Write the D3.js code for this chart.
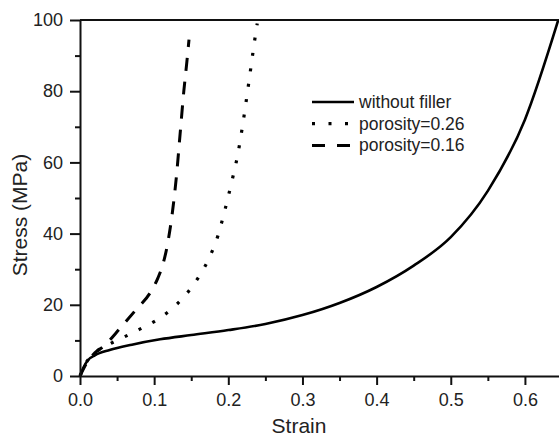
<!DOCTYPE html>
<html>
<head>
<meta charset="utf-8">
<script src="https://cdn.jsdelivr.net/npm/d3@7/dist/d3.min.js"></script>
<style>
  body { margin: 0; background: #fff; }
  svg { display: block; font-family: "Liberation Sans", Arial, sans-serif; }
  .axis path, .axis line { stroke: #111; }
  .axis text { fill: #222; font-size: 18px; }
</style>
</head>
<body>
<svg width="559" height="436"></svg>
<script>
// strain / stress pairs
const noFillerStrain = [0, 0.005, 0.01, 0.02, 0.04, 0.07, 0.108, 0.15, 0.2, 0.25, 0.3, 0.35, 0.4, 0.45, 0.5, 0.55, 0.6, 0.645];
const noFillerStress = [0, 2.5, 4.3, 5.8, 7.3, 8.8, 10.3, 11.5, 12.9, 14.6, 17.1, 20.5, 25, 31, 39, 52, 72, 100];

const p26Strain = [0, 0.01, 0.02, 0.04, 0.06, 0.08, 0.1, 0.12, 0.14, 0.16, 0.175, 0.186, 0.195, 0.204, 0.213, 0.219, 0.225, 0.23, 0.235, 0.239];
const p26Stress = [0, 4.3, 6.5, 9, 11, 13.1, 15.3, 18.2, 22.2, 27.8, 33.5, 39.4, 46.3, 54, 62.5, 70, 78.5, 86, 93.5, 99];

const p16Strain = [0, 0.01, 0.02, 0.031, 0.054, 0.075, 0.095, 0.105, 0.112, 0.118, 0.124, 0.13, 0.135, 0.14, 0.144, 0.147];
const p16Stress = [0, 4, 6.5, 8.2, 13.4, 18.5, 23.5, 27.5, 31.5, 37, 45, 56, 68, 80, 88, 94.5];

const seriesNames = ["without filler", "porosity=0.26", "porosity=0.16"];
const xTicks = [0, 0.1, 0.2, 0.3, 0.4, 0.5, 0.6];
const yTicks = [0, 20, 40, 60, 80, 100];

const svg = d3.select("svg");
const x = d3.scaleLinear().domain([0, 0.65]).range([80, 562]);
const y = d3.scaleLinear().domain([0, 100]).range([376, 20]);

const series = [
  { name: seriesNames[0], xs: noFillerStrain, ys: noFillerStress, dash: null, legendDash: null, w: 2.6 },
  { name: seriesNames[1], xs: p26Strain, ys: p26Stress, dash: "3,12.5", legendDash: "3,13.5", w: 3.2 },
  { name: seriesNames[2], xs: p16Strain, ys: p16Stress, dash: "13,11", legendDash: "13,12", w: 3 }
];

const line = d3.line().x(d => x(d[0])).y(d => y(d[1])).curve(d3.curveMonotoneX);

series.forEach(s => {
  svg.append("path")
    .datum(s.xs.map((v, i) => [v, s.ys[i]]))
    .attr("d", line)
    .attr("fill", "none")
    .attr("stroke", "#000")
    .attr("stroke-width", s.w)
    .attr("stroke-dasharray", s.dash);
});

// minor ticks
const minorX = d3.range(0.05, 0.65, 0.1);
const minorY = d3.range(10, 100, 20);
svg.append("g").attr("class", "axis")
  .attr("transform", "translate(0,376)")
  .call(d3.axisBottom(x).tickValues(minorX).tickSize(5).tickFormat(""))
  .call(g => g.select(".domain").remove())
  .selectAll("line").attr("stroke-width", 2);
svg.append("g").attr("class", "axis")
  .attr("transform", "translate(80,0)")
  .call(d3.axisLeft(y).tickValues(minorY).tickSize(5).tickFormat(""))
  .call(g => g.select(".domain").remove())
  .selectAll("line").attr("stroke-width", 2);

// major axes
const xAxis = svg.append("g").attr("class", "axis")
  .attr("transform", "translate(0,376)")
  .call(d3.axisBottom(x).tickValues(xTicks).tickSize(9).tickSizeOuter(0).tickPadding(8).tickFormat(d3.format(".1f")));
xAxis.select(".domain").attr("stroke-width", 2);
xAxis.selectAll("line").attr("stroke-width", 2);

const yAxis = svg.append("g").attr("class", "axis")
  .attr("transform", "translate(80,0)")
  .call(d3.axisLeft(y).tickValues(yTicks).tickSize(10).tickSizeOuter(0).tickPadding(7));
yAxis.select(".domain").attr("stroke-width", 2);
yAxis.selectAll("line").attr("stroke-width", 2);

// frame top and right
svg.append("line").attr("x1", 80).attr("x2", 562).attr("y1", 20).attr("y2", 20)
  .attr("stroke", "#111").attr("stroke-width", 2);
svg.append("line").attr("x1", 562).attr("x2", 562).attr("y1", 20).attr("y2", 376)
  .attr("stroke", "#111").attr("stroke-width", 2);

// axis titles
svg.append("text").attr("x", 299).attr("y", 433)
  .attr("text-anchor", "middle").attr("font-size", 21).attr("fill", "#222")
  .text("Strain");
svg.append("text")
  .attr("transform", "translate(27,215) rotate(-90)")
  .attr("text-anchor", "middle").attr("font-size", 21).attr("fill", "#222")
  .text("Stress (MPa)");

// legend
const legend = svg.append("g").attr("transform", "translate(312,102)");
series.forEach((s, i) => {
  const row = legend.append("g").attr("transform", `translate(0,${i * 21.7})`);
  row.append("line").attr("x1", 0).attr("x2", 42).attr("y1", 0).attr("y2", 0)
    .attr("stroke", "#000").attr("stroke-width", s.w)
    .attr("stroke-dasharray", s.legendDash);
  row.append("text").attr("x", 47).attr("y", 6)
    .attr("font-size", 17.5).attr("fill", "#222")
    .text(s.name);
});
</script>
</body>
</html>
